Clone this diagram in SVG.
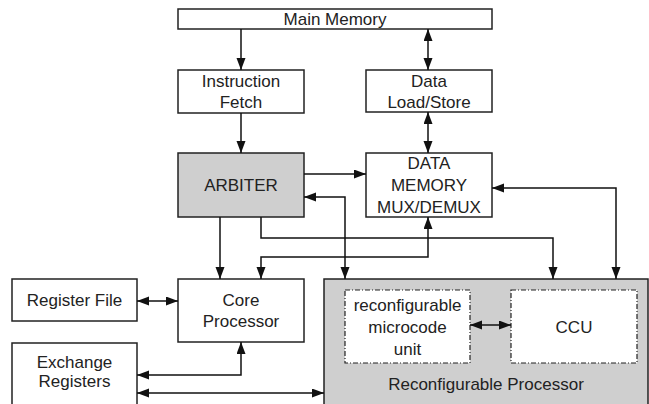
<svg xmlns="http://www.w3.org/2000/svg" width="649" height="404" viewBox="0 0 649 404">
<defs>
<marker id="ah" markerUnits="userSpaceOnUse" markerWidth="13" markerHeight="10" refX="12" refY="4.5" orient="auto-start-reverse">
<path d="M0,0 L12,4.5 L0,9 z" fill="#111"/>
</marker>
<style>
.box{fill:#fff;stroke:#222;stroke-width:1.5}
.gray{fill:#cfcfcf;stroke:#222;stroke-width:1.5}
.dash{fill:#fff;stroke:#222;stroke-width:1.2;stroke-dasharray:5,2,1,2}
text{font-family:"Liberation Sans",Arial,sans-serif;font-size:17px;fill:#222;text-anchor:middle}
.c{fill:none;stroke:#111;stroke-width:1.5}
</style>
</defs>
<rect width="649" height="404" fill="#fff"/>
<g id="main-memory"><rect class="box" x="178" y="9" width="314" height="20"/><text x="335" y="25">Main Memory</text></g>
<g id="instruction-fetch"><rect class="box" x="178" y="70" width="126" height="43"/><text x="241" y="87">Instruction</text><text x="241" y="108">Fetch</text></g>
<g id="data-load-store"><rect class="box" x="366" y="70" width="126" height="42"/><text x="429" y="87">Data</text><text x="429" y="108">Load/Store</text></g>
<g id="arbiter"><rect class="gray" x="178" y="153" width="126" height="64"/><text x="241" y="191">ARBITER</text></g>
<g id="data-memory"><rect class="box" x="366" y="153" width="126" height="64"/><text x="429" y="169">DATA</text><text x="429" y="191">MEMORY</text><text x="429" y="213">MUX/DEMUX</text></g>
<g id="register-file"><rect class="box" x="12" y="279" width="125" height="42"/><text x="74.5" y="306">Register File</text></g>
<g id="core-processor"><rect class="box" x="178" y="279" width="126" height="63"/><text x="241" y="306">Core</text><text x="241" y="327">Processor</text></g>
<g id="exchange-registers"><rect class="box" x="12" y="343" width="125" height="70"/><text x="74.5" y="368">Exchange</text><text x="74.5" y="387">Registers</text></g>
<g id="reconfigurable-processor"><rect class="gray" x="324" y="279" width="324" height="135"/><text x="486" y="390">Reconfigurable Processor</text></g>
<g id="microcode-unit"><rect class="dash" x="345" y="290" width="125" height="73"/><text x="407.5" y="311">reconfigurable</text><text x="407.5" y="333">microcode</text><text x="407.5" y="355">unit</text></g>
<g id="ccu"><rect class="dash" x="511" y="290" width="126" height="73"/><text x="574" y="333">CCU</text></g>
<g id="connectors">
<path class="c" d="M241,29 V70" marker-end="url(#ah)"/>
<path class="c" d="M428,29 V70" marker-start="url(#ah)" marker-end="url(#ah)"/>
<path class="c" d="M241,113 V153" marker-end="url(#ah)"/>
<path class="c" d="M428,112 V153" marker-start="url(#ah)" marker-end="url(#ah)"/>
<path class="c" d="M304,174 H366" marker-end="url(#ah)"/>
<path class="c" d="M304,197 H345 V279" marker-start="url(#ah)" marker-end="url(#ah)"/>
<path class="c" d="M220,217 V279" marker-end="url(#ah)"/>
<path class="c" d="M261,217 V238 H553 V279" marker-end="url(#ah)"/>
<path class="c" d="M428,217 V257 H261 V279" marker-start="url(#ah)" marker-end="url(#ah)"/>
<path class="c" d="M492,188 H616 V279" marker-start="url(#ah)" marker-end="url(#ah)"/>
<path class="c" d="M137,301 H178" marker-start="url(#ah)" marker-end="url(#ah)"/>
<path class="c" d="M137,375 H241 V342" marker-start="url(#ah)" marker-end="url(#ah)"/>
<path class="c" d="M137,393 H324" marker-start="url(#ah)" marker-end="url(#ah)"/>
<path class="c" d="M470,325 H511" marker-start="url(#ah)" marker-end="url(#ah)"/>
</g>
</svg>
